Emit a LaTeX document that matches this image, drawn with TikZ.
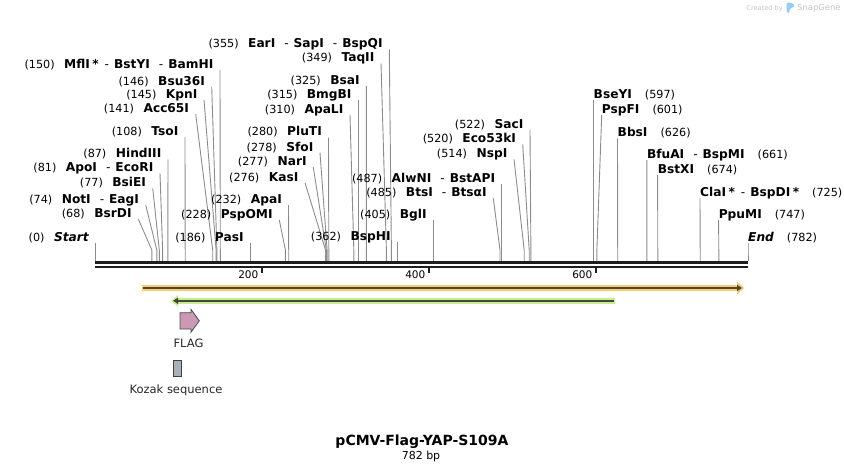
\documentclass[tikz,border=0pt]{standalone}
\usepackage{fontspec}
\setmainfont{DejaVu Sans}
\usepackage{tikz}
\usetikzlibrary{arrows.meta, positioning}
\definecolor{cutgray}{RGB}{140,140,140}
\definecolor{bbdark}{RGB}{30,30,30}
\definecolor{featdark}{RGB}{70,70,62}
\definecolor{orfamber}{RGB}{250,204,112}
\definecolor{orfgreen}{RGB}{196,240,140}
\definecolor{flagpink}{RGB}{204,153,180}
\definecolor{kozakgray}{RGB}{170,176,184}
\definecolor{sgtext}{RGB}{196,196,196}
\definecolor{sgblue}{RGB}{150,205,245}
\newcommand{\numf}{\fontsize{11.2}{13}\selectfont\mdseries}
\newcommand{\namef}{\fontsize{12.2}{14}\selectfont\bfseries}
\newcommand{\ds}{{\mdseries\hspace{9pt}-\hspace{5pt}}}
\newcommand{\as}{\hspace{2.5pt}*\hspace{-3pt}}
\newcommand{\lt}[2]{{\numf(#1)}\hspace{9.5pt}{\namef #2}}
\newcommand{\rt}[2]{{\namef #2}\hspace{13pt}{\numf(#1)}}
\tikzset{
  cutleft/.style={anchor=south east, inner xsep=6.5pt, inner ysep=1.5pt, text depth=0pt},
  cutright/.style={anchor=south west, inner xsep=0pt, inner ysep=1.5pt, text depth=0pt},
  cutline/.style={draw=cutgray, line width=0.9pt},
  bbline/.style={draw=bbdark},
  tickline/.style={draw=bbdark, line width=1.2pt},
  ticklbl/.style={anchor=base east, inner sep=0pt, font=\fontsize{10.5}{12}\selectfont},
  featlbl/.style={anchor=base, inner sep=0pt, font=\fontsize{11.5}{13}\selectfont, text=black!85},
  kozakbox/.style={rectangle, draw=black!75, fill=kozakgray, line width=0.8pt,
    minimum width=8.7pt, minimum height=16pt, inner sep=0pt}
}
% label to cut position
\newcommand{\siteL}[4]{%
  \node[cutleft] (#1) at (#2) {#4};
  \coordinate (#1-s) at (#3,261);
  \draw[cutline] (#1.south east) -- (#1-s |- bendy) -- (#1-s);}
\newcommand{\siteR}[4]{%
  \node[cutright] (#1) at (#2) {#4};
  \coordinate (#1-s) at (#3,261);
  \draw[cutline] (#1.south west) -- (#1-s |- bendy) -- (#1-s);}

\begin{document}
\begin{tikzpicture}[x=1pt, y=-1pt]
  \useasboundingbox (0,0) rectangle (844,471);
  \coordinate (bendy) at (0,250);

  % SnapGene mark
  \node[anchor=base east, inner sep=0pt, text=sgtext, font=\fontsize{6.6}{8}\selectfont] (sgby) at (783,10) {Created by};
  \fill[sgblue, rounded corners=1.5pt] (786.5,2.5) -- (791,2.5) -- (795,5.5) -- (791,8.5) -- (789.5,8.5) -- (789.5,13) -- (786.5,13) -- cycle;
  \node[anchor=base west, inner sep=0pt, text=sgtext, font=\fontsize{8.4}{10}\selectfont] (sgname) at (797,10.5) {SnapGene};

  % Sites, left side
  \siteL{start}{95.5,243}{95.5}{\lt{0}{\itshape Start}}
  \siteL{bsrdi}{138.3,219}{151.8}{\lt{68}{BsrDI}}
  \siteL{noti}{145.7,205}{156.8}{\lt{74}{NotI\ds EagI}}
  \siteL{bsiei}{152.7,188.3}{159.3}{\lt{77}{BsiEI}}
  \siteL{apoi}{160,173.3}{162.6}{\lt{81}{ApoI\ds EcoRI}}
  \siteL{hindiii}{168,159.3}{167.8}{\lt{87}{HindIII}}
  \siteL{tsoi}{185,137}{185.2}{\lt{108}{TsoI}}
  \siteL{acc}{195.7,114}{212.7}{\lt{141}{Acc65I}}
  \siteL{kpni}{204,100}{216.1}{\lt{145}{KpnI}}
  \siteL{bsu}{211.7,86.7}{216.9}{\lt{146}{Bsu36I}}
  \siteL{bamhi}{220,70}{220.3}{\lt{150}{MflI\as\ds BstYI\ds BamHI}}
  \siteL{pasi}{250.3,243}{250.3}{\lt{186}{PasI}}
  \siteL{pspomi}{279.3,220}{285.4}{\lt{228}{PspOMI}}
  \siteL{apai}{288.5,205}{288.7}{\lt{232}{ApaI}}
  \siteL{kasi}{305,182.7}{325.5}{\lt{276}{KasI}}
  \siteL{nari}{313.3,167.3}{326.3}{\lt{277}{NarI}}
  \siteL{sfoi}{320,152.7}{327.1}{\lt{278}{SfoI}}
  \siteL{pluti}{328.5,137.5}{328.8}{\lt{280}{PluTI}}
  \siteL{apali}{350,115}{353.8}{\lt{310}{ApaLI}}
  \siteL{bmgbi}{358.2,100}{358.2}{\lt{315}{BmgBI}}
  \siteL{bsai}{366.3,86}{366.4}{\lt{325}{BsaI}}
  \siteL{taqii}{381,63.3}{386.4}{\lt{349}{TaqII}}
  \siteL{bspqi}{389.3,49.3}{391.4}{\lt{355}{EarI\ds SapI\ds BspQI}}
  \siteL{bsphi}{397.3,242}{397.3}{\lt{362}{BspHI}}
  \siteL{bgli}{433.3,220}{433.3}{\lt{405}{BglI}}
  \siteL{btsi}{493.3,198.3}{500}{\lt{485}{BtsI\ds BtsαI}}
  \siteL{alwni}{501.8,184}{501.8}{\lt{487}{AlwNI\ds BstAPI}}
  \siteL{nspi}{514,159.3}{524.2}{\lt{514}{NspI}}
  \siteL{eco}{522.7,144.3}{529.2}{\lt{520}{Eco53kI}}
  \siteL{saci}{530,130}{530.9}{\lt{522}{SacI}}

  % Sites, right side
  \siteR{bseyi}{593.5,100}{593.5}{\rt{597}{BseYI}}
  \siteR{pspfi}{601.7,115}{596.9}{\rt{601}{PspFI}}
  \siteR{bbsi}{617.5,138.3}{617.7}{\rt{626}{BbsI}}
  \siteR{bfuai}{646.8,160}{646.9}{\rt{661}{BfuAI\ds BspMI}}
  \siteR{bstxi}{657.6,175}{657.8}{\rt{674}{BstXI}}
  \siteR{clai}{700,198.3}{700.2}{\rt{725}{ClaI\as\ds BspDI\hspace{2.5pt}*}}
  \siteR{ppumi}{718.6,220}{718.8}{\rt{747}{PpuMI}}
  \siteR{end}{748,243}{748}{\rt{782}{\itshape End}}

  % Backbone
  \coordinate (bbL) at (95,262.5);
  \coordinate (bbR) at (748,262.5);
  \coordinate (bbL2) at (95,266.8);
  \coordinate (bbR2) at (748,266.8);
  \draw[bbline, line width=3pt] (bbL) -- (bbR);
  \draw[bbline, line width=2.4pt] (bbL2) -- (bbR2);

  % Ruler
  \foreach \t/\x in {200/262, 400/429, 600/596} {
    \coordinate (tk\t) at (\x,267);
    \draw[tickline] (tk\t) -- ++(0,5.5);
    \node[ticklbl] (tl\t) at (\x-3.5,278.5) {\t};
  }

  % Features
  \coordinate (orfA) at (143,288);
  \coordinate (orfB) at (742,288);
  \fill[orfamber] (142,285) -- (737,285) -- (737,281.5) -- (744.5,288) -- (737,294.5) -- (737,291) -- (142,291) -- cycle;
  \draw[featdark, line width=2.4pt, -{Triangle[length=5pt, width=6pt]}] (orfA) -- (orfB);

  \coordinate (yapA) at (614,300.8);
  \coordinate (yapB) at (173,300.8);
  \fill[orfgreen] (615,297.8) -- (178,297.8) -- (178,295) -- (171,300.8) -- (178,306.6) -- (178,303.8) -- (615,303.8) -- cycle;
  \draw[featdark, line width=2.4pt, -{Triangle[length=5pt, width=6pt]}] (yapA) -- (yapB);

  \draw[draw=black!70, fill=flagpink, line width=0.8pt]
    (180,312.7) -- (191,312.7) -- (191,309.3) -- (199.3,320.8) -- (191,332.3) -- (191,329) -- (180,329) -- cycle;
  \node[featlbl] (flaglbl) at (188.5,347) {FLAG};

  \node[kozakbox] (kozak) at (177.3,368) {};
  \node[featlbl] (kozaklbl) at (176,393) {Kozak sequence};

  % Title
  \node[anchor=base, inner sep=0pt, font=\fontsize{14}{16}\selectfont\bfseries] (title) at (422,445) {pCMV-Flag-YAP-S109A};
  \node[anchor=base, inner sep=0pt, font=\fontsize{11}{13}\selectfont] (bplen) at (421,459) {782 bp};
\end{tikzpicture}
\end{document}
